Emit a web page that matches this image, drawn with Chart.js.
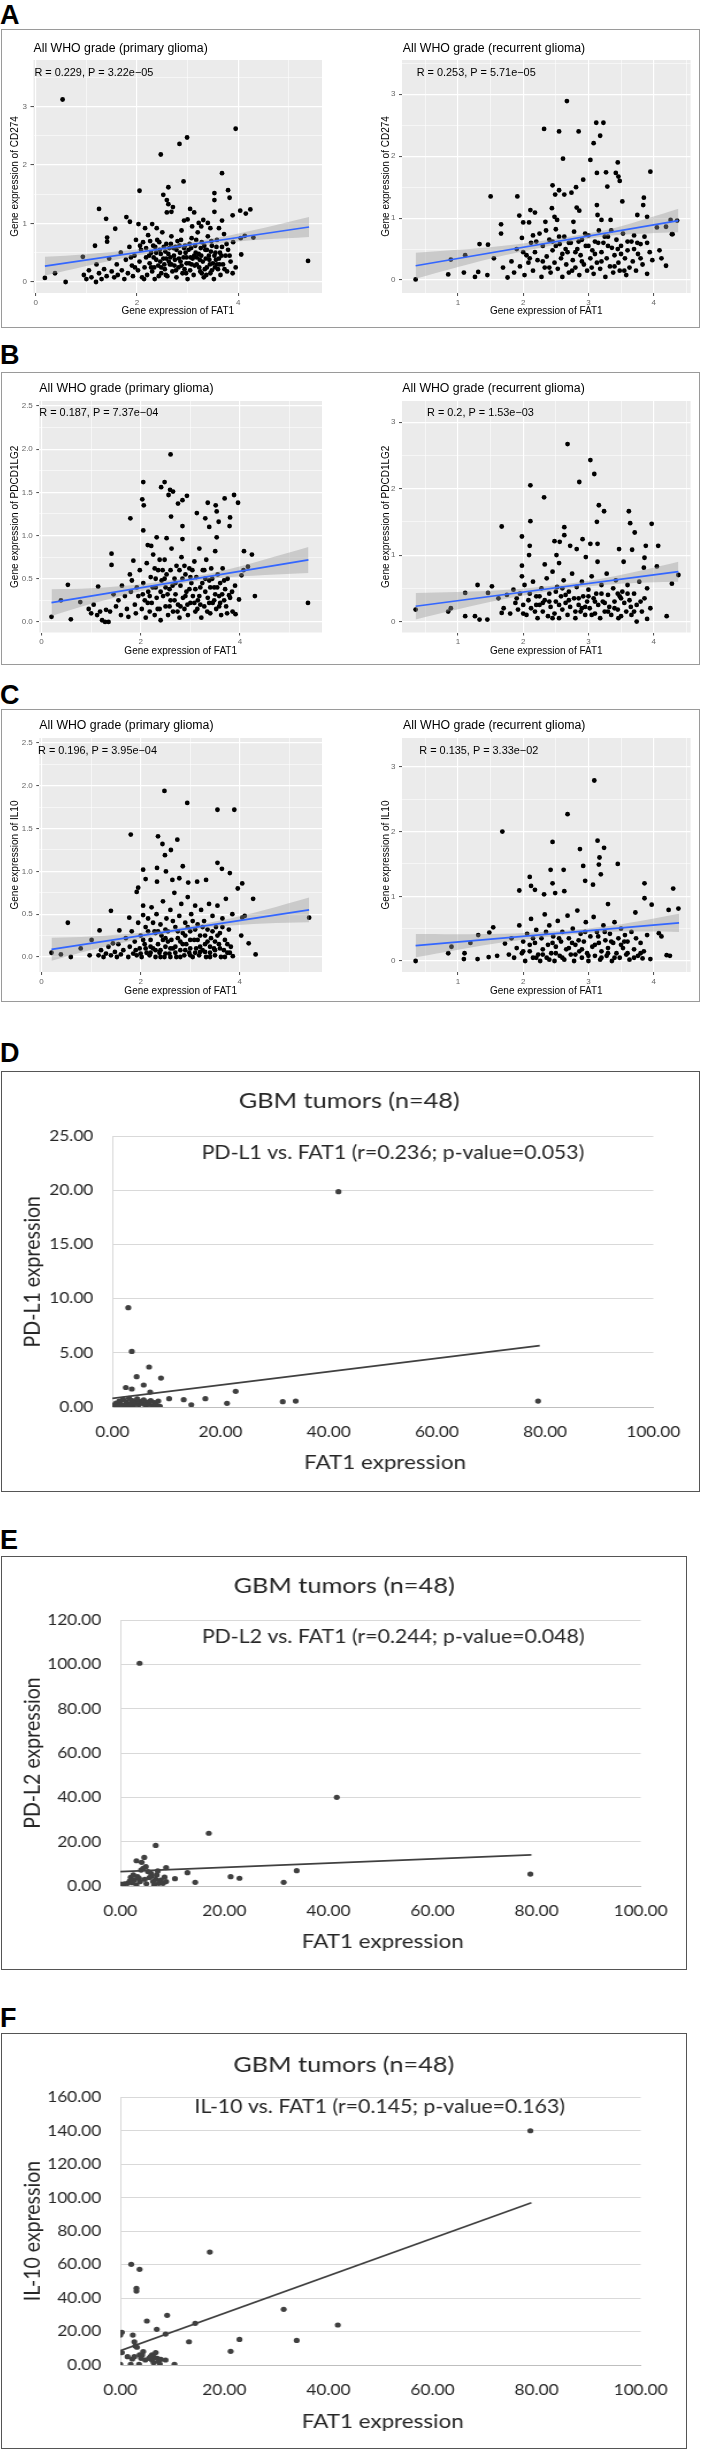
<!DOCTYPE html>
<html><head><meta charset="utf-8">
<script src="https://cdn.jsdelivr.net/npm/chart.js@4.4.1/dist/chart.umd.min.js"></script>
<style>
html,body{margin:0;padding:0;background:#fff;}
#page{position:relative;width:701px;height:2452px;overflow:hidden;background:#fff;}
.frame{position:absolute;box-sizing:border-box;}
.gg{border:1px solid #9a9a9a;}
.xl{border:1.5px solid #555;}
.lab{position:absolute;font-family:'Liberation Sans',Arial,sans-serif;font-weight:bold;font-size:27px;line-height:27px;color:#000;}
.stretch{position:absolute;transform-origin:0 0;}
canvas{position:absolute;}
</style></head><body><div id="page">
<div class="lab" style="left:0;top:2px">A</div>
<div class="lab" style="left:0;top:342px">B</div>
<div class="lab" style="left:0;top:682px">C</div>
<div class="lab" style="left:0;top:1040px">D</div>
<div class="lab" style="left:0;top:1527px">E</div>
<div class="lab" style="left:0;top:2005px">F</div>
<div class="frame gg" style="left:1px;top:29px;width:699px;height:299px"></div>
<div class="frame gg" style="left:1px;top:372px;width:699px;height:293px"></div>
<div class="frame gg" style="left:1px;top:709px;width:699px;height:293px"></div>
<div class="frame xl" style="left:1px;top:1071px;width:699px;height:421px"></div>
<div class="frame xl" style="left:1px;top:1556px;width:686px;height:414px"></div>
<div class="frame xl" style="left:1px;top:2033px;width:686px;height:416px"></div>
</div>
<script>
// ---------------- DATA ----------------
// Panel A : CD274 vs FAT1
const cd274Primary = [
[0.53,3.12],[3.95,2.62],[2.99,2.47],[2.84,2.36],[2.47,2.18],[3.68,1.86],[2.92,1.72],[2.05,1.56],[2.62,1.62],[2.52,1.49],
[3.53,1.52],[3.8,1.57],[3.53,1.40],[3.83,1.44],[2.59,1.40],[2.62,1.33],[2.71,1.28],[2.59,1.19],[2.68,1.20],[1.25,1.25],
[1.39,1.08],[3.05,1.25],[3.13,1.19],[3.53,1.20],[4.04,1.22],[4.15,1.17],[4.24,1.24],[3.89,1.14],[3.68,1.05],[1.79,1.11],
[1.86,1.03],[1.57,0.91],[1.41,0.76],[2.03,0.99],[2.30,0.99],[2.93,1.05],[3.0,1.07],[3.22,1.01],[3.31,1.06],[3.40,1.01],
[3.09,0.95],[3.27,0.95],[3.45,0.92],[3.62,0.92],[2.16,0.92],[2.39,0.92],
[0.18,0.07],[0.38,0.15],[0.59,0.0],[0.93,0.43],[1.17,0.62],[1.41,0.69],[1.19,0.0],[5.38,0.36],[3.89,0.15],[4.06,0.47],
[4.05,0.75],[4.3,0.76],[4.13,0.79],
[0.95,0.12],[1.0,0.05],[1.05,0.2],[1.1,0.08],[1.2,0.3],[1.25,0.15],[1.3,0.05],[1.35,0.22],[1.4,0.1],[1.45,0.4],[1.5,0.18],
[1.55,0.08],[1.6,0.3],[1.62,0.12],[1.68,0.5],[1.7,0.2],[1.75,0.05],[1.78,0.38],[1.82,0.15],[1.85,0.6],[1.9,0.28],[1.92,0.1],[1.95,0.45],[1.98,0.72],
[2.02,0.2],[2.05,0.35],[2.08,0.55],[2.1,0.08],[2.12,0.68],[2.15,0.25],[2.18,0.42],[2.2,0.12],[2.22,0.8],[2.25,0.32],[2.28,0.5],[2.3,0.18],[2.32,0.62],[2.35,0.05],[2.38,0.38],[2.4,0.72],[2.42,0.28],[2.45,0.55],[2.48,0.15],[2.5,0.85],
[2.52,0.4],[2.55,0.22],[2.58,0.65],[2.6,0.1],[2.62,0.48],[2.65,0.3],[2.68,0.78],[2.7,0.18],[2.72,0.58],[2.75,0.38],[2.78,0.08],[2.8,0.7],[2.82,0.25],[2.85,0.5],[2.88,0.88],[2.9,0.15],[2.92,0.42],[2.95,0.62],[2.98,0.32],[3.0,0.05],
[3.02,0.55],[3.05,0.2],[3.08,0.75],[3.1,0.4],[3.12,0.12],[3.15,0.62],[3.18,0.3],[3.2,0.85],[3.22,0.48],[3.25,0.18],[3.28,0.68],[3.3,0.35],[3.32,0.08],[3.35,0.55],[3.38,0.25],[3.4,0.78],[3.42,0.45],[3.45,0.15],[3.48,0.62],[3.5,0.32],
[3.52,0.05],[3.55,0.5],[3.58,0.72],[3.6,0.22],[3.62,0.4],[3.65,0.12],[3.68,0.6],[3.7,0.3],[3.72,0.82],[3.75,0.45],[3.78,0.18],[3.8,0.55],[3.85,0.35],[3.9,0.68],[3.95,0.25],
[2.24,0.45],[2.36,0.6],[2.46,0.35],[2.56,0.52],[2.66,0.42],[2.76,0.6],[2.86,0.35],[2.96,0.5],[3.06,0.42],[3.16,0.5],[3.26,0.58],[3.36,0.4],[3.46,0.52],[3.56,0.38],
[2.34,0.25],[2.54,0.3],[2.74,0.28],[2.94,0.22],[3.14,0.28],[3.34,0.22],[3.54,0.25],[2.44,0.68],[2.64,0.58],[2.84,0.62],[3.04,0.65],[3.24,0.38],[3.44,0.3],[3.64,0.5],
[1.88,0.42],[1.96,0.25],[2.06,0.62],[2.14,0.05],[2.26,0.7],[2.33,0.42],[2.43,0.1],[2.47,0.48],[2.53,0.6],[2.57,0.12],
[2.63,0.35],[2.67,0.65],[2.73,0.45],[2.77,0.2],[2.83,0.4],[2.87,0.72],[2.93,0.58],[2.97,0.15],[3.03,0.32],[3.07,0.58],
[3.13,0.45],[3.17,0.72],[3.23,0.25],[3.27,0.45],[3.33,0.62],[3.37,0.12],[3.43,0.38],[3.47,0.7],[3.53,0.45],[3.57,0.6],
[3.63,0.3],[3.67,0.45],[3.73,0.22],[3.77,0.65],[3.83,0.45],[2.18,0.58],[2.28,0.25],[2.38,0.5],[2.48,0.25],[2.58,0.4],
[2.68,0.3],[2.78,0.55],[2.88,0.28],[2.98,0.42],[3.08,0.3],[3.18,0.42],[3.28,0.15],[3.38,0.55],[3.48,0.2],[3.58,0.3]
];
const cd274PrimaryReg = [[0.18,0.27],[5.4,0.94]];
const cd274PrimaryBandX  = [0.18,1.0,2.0,2.8,3.6,4.5,5.4];
const cd274PrimaryBandLo = [0.11,0.275,0.454,0.566,0.659,0.725,0.77];
const cd274PrimaryBandHi = [0.43,0.475,0.554,0.646,0.759,0.925,1.11];

const cd274Recurrent = [
[2.67,2.89],[3.12,2.54],[3.23,2.54],[2.32,2.44],[2.55,2.40],[2.85,2.40],[3.18,2.33],[3.08,2.21],[2.61,1.96],[3.03,1.94],
[3.45,1.90],[3.13,1.73],[3.27,1.74],[3.42,1.73],[3.95,1.75],[3.46,1.67],[3.48,1.60],[2.92,1.62],[2.45,1.53],[3.29,1.51],
[2.81,1.50],[2.55,1.45],[2.49,1.38],[2.63,1.38],[2.74,1.41],[1.50,1.35],[1.91,1.35],[3.85,1.33],[3.52,1.27],[3.13,1.21],
[2.82,1.17],[2.86,1.12],[3.84,1.21],[1.94,1.04],[2.11,1.13],[2.18,1.09],[2.44,1.16],[2.48,1.02],[3.14,1.05],[3.75,1.05],
[3.90,1.02],[1.66,0.90],[2.0,0.93],[2.09,0.93],[2.34,0.94],[2.52,0.97],[2.77,0.94],[3.2,0.97],[3.34,0.97],[4.26,0.97],
[4.36,0.96],[4.05,0.85],[4.19,0.86],[4.28,0.74],
[0.35,0.01],[0.85,0.09],[0.89,0.33],[1.11,0.40],[1.09,0.12],[1.26,0.05],[1.33,0.58],[1.31,0.13],[1.45,0.08],[1.46,0.57],
[1.66,0.75],[1.55,0.35],[1.76,0.04],[1.69,0.20],[4.09,0.48],[4.12,0.35],[4.19,0.23],[4.29,0.74],
[1.82,0.3],[1.86,0.12],[1.9,0.5],[1.95,0.22],[1.98,0.68],[2.02,0.08],[2.05,0.4],[2.08,0.28],[2.12,0.6],[2.15,0.15],
[2.18,0.45],[2.22,0.32],[2.25,0.75],[2.28,0.05],[2.3,0.55],[2.33,0.2],[2.36,0.38],[2.4,0.65],[2.42,0.12],[2.45,0.48],
[2.48,0.28],[2.5,0.82],[2.53,0.18],[2.56,0.58],[2.58,0.35],[2.6,0.05],[2.63,0.7],[2.66,0.25],[2.68,0.45],[2.7,0.12],
[2.73,0.6],[2.76,0.32],[2.78,0.78],[2.8,0.2],[2.83,0.5],[2.86,0.08],[2.88,0.4],[2.9,0.65],[2.93,0.25],[2.96,0.55],
[2.98,0.15],[3.0,0.72],[3.03,0.35],[3.06,0.48],[3.08,0.1],[3.1,0.62],[3.13,0.28],[3.16,0.8],[3.18,0.18],[3.2,0.45],
[3.23,0.6],[3.26,0.05],[3.28,0.35],[3.3,0.7],[3.33,0.22],[3.36,0.52],[3.38,0.12],[3.4,0.4],[3.43,0.65],[3.46,0.28],
[3.48,0.15],[3.5,0.55],[3.53,0.75],[3.56,0.35],[3.58,0.08],[3.6,0.48],[3.63,0.2],[3.66,0.62],[3.68,0.3],[3.7,0.72],
[3.73,0.15],[3.76,0.42],[3.8,0.58],[3.83,0.25],[3.86,0.7],[3.9,0.1],[3.94,0.45],[3.98,0.32],
[2.0,0.45],[2.1,0.35],[2.2,0.62],[2.3,0.3],[2.4,0.2],[2.5,0.55],[2.6,0.42],[2.7,0.6],[2.8,0.45],[2.9,0.3],
[3.0,0.55],[3.1,0.42],[3.2,0.3],[3.3,0.55],[3.4,0.22],[3.5,0.42],[3.6,0.62],[3.7,0.5],[3.8,0.35],[3.9,0.6],
[2.15,0.72],[2.35,0.8],[2.55,0.7],[2.75,0.15],[2.95,0.75],[3.15,0.6],[3.35,0.8],[3.55,0.15],[3.75,0.6],[2.45,0.62],
[2.65,0.5],[2.85,0.62],[3.05,0.2],[3.25,0.7],[3.45,0.5]
];
const cd274RecurrentReg = [[0.35,0.23],[4.38,0.96]];
const cd274RecurrentBandX  = [0.35,1.0,1.7,2.4,2.9,3.4,3.9,4.38];
const cd274RecurrentBandLo = [0.02,0.208,0.394,0.551,0.647,0.722,0.753,0.77];
const cd274RecurrentBandHi = [0.44,0.488,0.554,0.651,0.737,0.842,0.993,1.15];

// Panel B : PDCD1LG2 vs FAT1
const pdcd1lg2Primary = [
[2.6,1.94],[2.05,1.62],[2.48,1.62],[2.41,1.56],[2.59,1.53],[2.65,1.51],[2.56,1.47],[2.93,1.46],[2.84,1.41],[2.75,1.37],
[2.03,1.42],[2.06,1.35],[3.88,1.47],[3.96,1.38],[3.35,1.38],[3.69,1.43],[3.51,1.35],[3.53,1.28],[3.13,1.26],[3.3,1.20],
[3.8,1.21],[1.79,1.20],[2.61,1.22],[3.57,1.16],[2.84,1.11],[3.38,1.10],[3.79,1.11],[2.05,1.06],[2.32,0.98],[2.52,0.97],
[2.84,0.96],[3.53,0.98],[2.14,0.89],[2.21,0.88],[4.08,0.82],[4.24,0.78],[4.3,0.30],[1.41,0.79],[1.41,0.66],[1.85,0.71],
[1.78,0.55],[5.37,0.22],[0.2,0.06],[0.39,0.25],[0.53,0.43],[0.59,0.03],[0.78,0.23],[1.14,0.41],[3.91,0.09],[3.98,0.26],
[4.03,0.54],[4.07,0.60],[4.16,0.64],[3.78,0.31],
[0.95,0.15],[1.0,0.1],[1.05,0.2],[1.12,0.08],[1.18,0.12],[1.22,0.02],[1.28,0.0],[1.3,0.14],[1.35,0.0],[1.38,0.12],
[1.45,0.32],[1.5,0.18],[1.55,0.25],[1.6,0.08],[1.62,0.42],[1.68,0.3],[1.72,0.15],[1.75,0.06],[1.8,0.35],[1.82,0.48],
[1.88,0.2],[1.9,0.1],[1.95,0.3],[1.98,0.6],
[2.02,0.15],[2.05,0.45],[2.08,0.25],[2.1,0.05],[2.12,0.68],[2.15,0.35],[2.18,0.12],[2.2,0.52],[2.22,0.22],[2.25,0.78],
[2.28,0.08],[2.3,0.4],[2.32,0.28],[2.35,0.6],[2.38,0.15],[2.4,0.02],[2.42,0.48],[2.45,0.3],[2.48,0.72],[2.5,0.18],
[2.52,0.55],[2.55,0.08],[2.58,0.38],[2.6,0.25],[2.62,0.85],[2.65,0.12],[2.68,0.5],[2.7,0.32],[2.72,0.65],[2.75,0.2],
[2.78,0.05],[2.8,0.42],[2.82,0.75],[2.85,0.28],[2.88,0.15],[2.9,0.55],[2.92,0.35],[2.95,0.08],[2.98,0.62],[3.0,0.22],
[3.02,0.45],[3.05,0.3],[3.08,0.7],[3.1,0.12],[3.12,0.52],[3.15,0.25],[3.18,0.85],[3.2,0.4],[3.22,0.05],[3.25,0.6],
[3.28,0.18],[3.3,0.35],[3.32,0.72],[3.35,0.28],[3.38,0.48],[3.4,0.1],[3.42,0.62],[3.45,0.22],[3.48,0.4],[3.5,0.82],
[3.52,0.15],[3.55,0.55],[3.58,0.3],[3.6,0.45],[3.62,0.08],[3.65,0.62],[3.68,0.25],[3.7,0.38],[3.72,0.18],[3.75,0.5],
[3.8,0.28],[3.85,0.12],[3.9,0.42],
[2.3,0.5],[2.5,0.4],[2.7,0.45],[2.9,0.3],[3.1,0.38],[3.3,0.5],[3.5,0.32],[2.4,0.35],[2.6,0.6],[2.8,0.18],[3.0,0.52],[3.2,0.2],[3.4,0.4],[3.6,0.22],
[1.92,0.4],[2.04,0.32],[2.14,0.22],[2.24,0.4],[2.34,0.15],[2.44,0.6],[2.54,0.32],[2.64,0.42],[2.74,0.12],[2.84,0.5],
[2.94,0.2],[3.04,0.6],[3.14,0.15],[3.24,0.45],[3.34,0.12],[3.44,0.5],[3.54,0.4],[3.64,0.32],[3.74,0.1],[3.84,0.35],
[2.28,0.62],[2.48,0.5],[2.68,0.25],[2.88,0.65],[3.08,0.22],[3.28,0.6],[3.48,0.25],[3.68,0.48],[2.18,0.3],[2.38,0.72],
[2.58,0.18],[2.78,0.6],[2.98,0.38],[3.18,0.3],[3.38,0.22],[3.58,0.18]
];
const pdcd1lg2PrimaryReg = [[0.2,0.224],[5.38,0.718]];
const pdcd1lg2PrimaryBandX  = [0.2,1.0,2.0,2.8,3.6,4.5,5.38];
const pdcd1lg2PrimaryBandLo = [0.069,0.21,0.356,0.442,0.508,0.544,0.568];
const pdcd1lg2PrimaryBandHi = [0.379,0.39,0.436,0.502,0.588,0.724,0.868];

const pdcd1lg2Recurrent = [
[2.68,2.67],[3.03,2.43],[3.09,2.22],[2.86,2.10],[2.11,2.05],[2.32,1.87],[3.16,1.75],[3.24,1.66],[3.62,1.66],[3.13,1.50],
[3.64,1.48],[3.97,1.47],[2.11,1.51],[1.67,1.43],[2.63,1.42],[3.71,1.34],[2.63,1.30],[1.98,1.28],[2.91,1.24],[2.1,1.14],
[2.48,1.21],[2.56,1.20],[2.72,1.14],[3.03,1.17],[3.14,1.17],[3.88,1.14],[4.07,1.14],[2.82,1.09],[3.47,1.09],[3.67,1.08],
[2.09,1.0],[2.51,1.0],[2.96,0.97],[3.14,0.90],[3.54,0.90],[3.86,0.96],[1.98,0.84],[2.33,0.86],[2.55,0.88],[4.05,0.83],
[3.85,0.81],[1.98,0.68],[4.38,0.70],[4.28,0.57],[4.2,0.08],[0.35,0.18],[0.85,0.15],[0.89,0.20],[1.11,0.43],[1.3,0.55],
[1.11,0.08],[1.26,0.08],[1.33,0.03],[1.52,0.53],[1.46,0.43],[1.45,0.03],[1.67,0.13],[3.46,0.05],[3.74,0.0],[3.9,0.04],
[1.62,0.35],[1.7,0.2],[1.75,0.4],[1.8,0.12],[1.85,0.48],[1.88,0.28],[1.92,0.18],[1.95,0.42],[2.0,0.25],[2.02,0.55],
[2.05,0.1],[2.08,0.32],[2.12,0.2],[2.15,0.6],[2.18,0.15],[2.2,0.38],[2.22,0.05],[2.25,0.25],[2.28,0.5],[2.3,0.15],
[2.33,0.32],[2.36,0.65],[2.38,0.08],[2.4,0.42],[2.42,0.22],[2.45,0.75],[2.48,0.12],[2.5,0.3],[2.52,0.52],[2.55,0.05],
[2.58,0.38],[2.6,0.18],[2.62,0.62],[2.65,0.28],[2.68,0.1],[2.7,0.45],[2.72,0.22],[2.75,0.72],[2.78,0.35],[2.8,0.05],
[2.82,0.52],[2.85,0.25],[2.88,0.15],[2.9,0.6],[2.92,0.38],[2.95,0.1],[2.98,0.3],[3.0,0.48],[3.02,0.2],[3.05,0.68],
[3.08,0.35],[3.1,0.12],[3.12,0.42],[3.15,0.25],[3.18,0.05],[3.2,0.55],[3.22,0.3],[3.25,0.15],[3.28,0.72],[3.3,0.4],
[3.32,0.22],[3.35,0.1],[3.38,0.5],[3.4,0.3],[3.42,0.62],[3.45,0.18],[3.48,0.38],[3.5,0.08],[3.52,0.45],[3.55,0.28],
[3.58,0.15],[3.6,0.55],[3.63,0.32],[3.66,0.1],[3.7,0.42],[3.74,0.25],[3.78,0.6],[3.82,0.15],[3.86,0.35],[3.9,0.5],[3.95,0.2],
[1.9,0.35],[2.1,0.42],[2.3,0.28],[2.5,0.45],[2.7,0.32],[2.9,0.2],[3.1,0.3],[3.3,0.15],[3.5,0.35],[3.7,0.15],
[2.0,0.12],[2.2,0.25],[2.4,0.3],[2.6,0.5],[2.8,0.15],[3.0,0.38],[3.2,0.42],[3.4,0.2],[3.6,0.42],[3.8,0.3],
[2.25,0.38],[2.45,0.05],[2.65,0.4],[2.85,0.35],[3.05,0.1],[3.25,0.28],[3.45,0.42],[3.65,0.22],[2.55,0.25],[2.95,0.22]
];
const pdcd1lg2RecurrentReg = [[0.35,0.23],[4.38,0.75]];
const pdcd1lg2RecurrentBandX  = [0.35,1.0,1.7,2.4,2.9,3.4,3.9,4.38];
const pdcd1lg2RecurrentBandLo = [0.03,0.184,0.334,0.454,0.519,0.563,0.588,0.6];
const pdcd1lg2RecurrentBandHi = [0.43,0.444,0.474,0.534,0.599,0.683,0.788,0.9];

// Panel C : IL10 vs FAT1
const il10Primary = [
[2.48,1.94],[2.94,1.80],[3.55,1.72],[3.89,1.72],[1.8,1.43],[2.35,1.41],[2.44,1.32],[2.74,1.37],[2.61,1.25],[2.49,1.19],
[3.55,1.10],[2.85,1.06],[2.05,1.02],[2.33,1.04],[2.51,1.0],[3.64,1.03],[3.8,0.98],[2.1,0.91],[2.33,0.88],[2.64,0.90],
[2.78,0.92],[2.96,0.87],[3.14,0.88],[3.32,0.90],[4.05,0.86],[3.96,0.80],[1.95,0.81],[1.92,0.76],[4.27,0.68],[1.4,0.54],
[0.53,0.40],[1.77,0.46],[2.05,0.49],[5.4,0.46],[4.05,0.46],[4.1,0.48],[4.03,0.25],[4.18,0.16],[4.32,0.03],[3.86,0.01],
[0.2,0.05],[0.39,0.03],[0.59,0.0],[0.79,0.10],[1.01,0.20],[0.97,0.02],[1.17,0.31],[1.57,0.31],[1.44,0.16],
[1.15,0.02],[1.2,0.08],[1.25,0.0],[1.3,0.04],[1.35,0.12],[1.4,0.02],[1.48,0.06],[1.52,0.0],[1.55,0.15],[1.6,0.03],
[1.65,0.08],[1.7,0.22],[1.75,0.0],[1.78,0.12],[1.82,0.3],[1.85,0.04],[1.88,0.18],[1.92,0.02],[1.95,0.4],[1.98,0.1],
[2.0,0.25],[2.02,0.0],[2.05,0.6],[2.08,0.15],[2.1,0.35],[2.12,0.05],[2.15,0.45],[2.18,0.02],[2.2,0.2],[2.22,0.58],
[2.25,0.1],[2.28,0.3],[2.3,0.0],[2.32,0.5],[2.35,0.15],[2.38,0.05],[2.4,0.38],[2.42,0.25],[2.45,0.65],[2.48,0.0],
[2.5,0.12],[2.52,0.45],[2.55,0.3],[2.58,0.04],[2.6,0.55],[2.62,0.2],[2.65,0.1],[2.68,0.75],[2.7,0.35],[2.72,0.0],
[2.75,0.22],[2.78,0.48],[2.8,0.08],[2.82,0.62],[2.85,0.28],[2.88,0.02],[2.9,0.4],[2.92,0.15],[2.95,0.7],[2.98,0.05],
[3.0,0.3],[3.02,0.5],[3.05,0.0],[3.08,0.2],[3.1,0.6],[3.12,0.1],[3.15,0.38],[3.18,0.02],[3.2,0.25],[3.22,0.55],
[3.25,0.08],[3.28,0.42],[3.3,0.15],[3.32,0.0],[3.35,0.32],[3.38,0.62],[3.4,0.05],[3.42,0.22],[3.45,0.48],[3.48,0.1],
[3.5,0.02],[3.52,0.35],[3.55,0.6],[3.58,0.15],[3.6,0.28],[3.62,0.0],[3.65,0.45],[3.68,0.08],[3.7,0.2],[3.72,0.68],
[3.75,0.05],[3.78,0.32],[3.82,0.12],[3.85,0.5],
[2.2,0.05],[2.4,0.08],[2.6,0.0],[2.8,0.18],[3.0,0.1],[3.2,0.06],[3.4,0.12],[2.3,0.28],[2.5,0.22],[2.7,0.12],[2.9,0.25],[3.1,0.32],[3.3,0.25],[3.5,0.18],
[1.9,0.08],[2.0,0.04],[2.1,0.1],[2.2,0.12],[2.3,0.08],[2.4,0.0],[2.5,0.04],[2.6,0.1],[2.7,0.05],[2.8,0.0],
[2.9,0.08],[3.0,0.02],[3.1,0.05],[3.2,0.12],[3.3,0.06],[3.4,0.0],[3.5,0.08],[3.6,0.1],[3.7,0.0],[3.8,0.05],
[2.15,0.3],[2.35,0.3],[2.55,0.18],[2.75,0.3],[2.95,0.35],[3.15,0.2],[3.35,0.18],[3.55,0.25],[3.75,0.15],[2.25,0.4],
[2.45,0.2],[2.65,0.42],[2.85,0.15],[3.05,0.42],[3.25,0.35],[3.45,0.3],[3.65,0.35],[2.05,0.2],[2.5,0.32],[3.0,0.2]
];
const il10PrimaryReg = [[0.2,0.09],[5.4,0.55]];
const il10PrimaryBandX  = [0.2,1.0,2.0,2.8,3.6,4.5,5.4];
const il10PrimaryBandLo = [-0.045,0.081,0.214,0.295,0.356,0.39,0.405];
const il10PrimaryBandHi = [0.225,0.241,0.284,0.345,0.426,0.55,0.695];

const il10Recurrent = [
[3.09,2.79],[2.68,2.27],[1.68,2.0],[2.45,1.84],[3.14,1.86],[3.24,1.75],[2.87,1.73],[3.17,1.60],[3.16,1.49],[3.45,1.50],
[2.92,1.47],[2.42,1.41],[2.62,1.41],[3.19,1.34],[2.1,1.30],[2.95,1.24],[3.07,1.18],[2.45,1.20],[2.12,1.16],[2.18,1.10],
[1.94,1.09],[2.32,1.03],[2.49,1.05],[2.63,1.08],[3.86,1.20],[4.3,1.12],[3.86,0.97],[3.97,0.87],[3.3,0.88],[3.72,0.75],
[4.23,0.79],[4.38,0.81],[0.35,0.0],[0.85,0.12],[0.9,0.22],[1.1,0.12],[1.19,0.28],[1.31,0.40],[1.09,0.03],[1.3,0.03],
[1.47,0.06],[1.54,0.52],[1.48,0.44],[1.6,0.08],[1.72,0.27],[4.2,0.09],[4.25,0.08],[4.08,0.43],[4.12,0.38],[3.95,0.03],[3.83,0.04],
[1.78,0.1],[1.82,0.35],[1.86,0.05],[1.9,0.2],[1.94,0.55],[1.98,0.12],[2.0,0.3],[2.03,0.0],[2.06,0.42],[2.1,0.15],
[2.12,0.65],[2.15,0.05],[2.18,0.28],[2.2,0.48],[2.23,0.1],[2.26,0.0],[2.28,0.35],[2.3,0.18],[2.33,0.72],[2.36,0.05],
[2.38,0.25],[2.4,0.55],[2.43,0.12],[2.46,0.38],[2.48,0.0],[2.5,0.22],[2.53,0.62],[2.56,0.08],[2.58,0.3],[2.6,0.45],
[2.63,0.02],[2.66,0.18],[2.68,0.7],[2.7,0.35],[2.73,0.1],[2.76,0.5],[2.78,0.0],[2.8,0.25],[2.83,0.78],[2.86,0.15],
[2.88,0.42],[2.9,0.05],[2.93,0.3],[2.96,0.6],[2.98,0.12],[3.0,0.0],[3.03,0.38],[3.06,0.22],[3.08,0.68],[3.1,0.08],
[3.13,0.45],[3.16,0.28],[3.18,0.02],[3.2,0.15],[3.23,0.55],[3.26,0.32],[3.28,0.08],[3.3,0.2],[3.33,0.42],[3.36,0.0],
[3.38,0.28],[3.4,0.6],[3.43,0.12],[3.46,0.35],[3.48,0.05],[3.5,0.5],[3.53,0.2],[3.56,0.4],[3.58,0.1],[3.6,0.3],
[3.63,0.02],[3.66,0.45],[3.7,0.18],[3.73,0.35],[3.76,0.08],[3.8,0.28],[3.85,0.15],[3.9,0.4],
[2.0,0.15],[2.1,0.25],[2.2,0.05],[2.3,0.1],[2.4,0.02],[2.5,0.12],[2.6,0.05],[2.7,0.2],[2.8,0.1],[2.9,0.18],
[3.0,0.08],[3.1,0.25],[3.2,0.05],[3.3,0.12],[3.4,0.05],[3.5,0.25],[3.6,0.12],[3.7,0.05],[3.8,0.12],[2.15,0.35],
[2.35,0.45],[2.55,0.35],[2.75,0.28],[2.95,0.45],[3.15,0.38],[3.35,0.3],[3.55,0.3],[2.45,0.28],[2.85,0.32],[3.25,0.45]
];
const il10RecurrentReg = [[0.35,0.237],[4.39,0.59]];
const il10RecurrentBandX  = [0.35,1.0,1.7,2.4,2.9,3.4,3.9,4.39];
const il10RecurrentBandLo = [0.057,0.174,0.29,0.376,0.425,0.454,0.457,0.45];
const il10RecurrentBandHi = [0.417,0.414,0.42,0.456,0.495,0.554,0.637,0.73];

// ggplot tick values
const primaryXMajor = [0,2,4];
const primaryXMinor = [1,3,5];
const recurrentXMajor = [1,2,3,4];
const recurrentXMinor = [0.5,1.5,2.5,3.5,4.5];
const yIntMajor = [0,1,2,3];
const yIntMinor = [0.5,1.5,2.5,3.5];
const yHalfMajor = [0,0.5,1,1.5,2,2.5];
const yHalfMinor = [0.25,0.75,1.25,1.75,2.25];

// Panels D-F : GBM tumors (n=48)
const pdl1GBM = [
[41.8,19.86],[2.95,9.16],[3.6,5.13],[6.8,3.69],[4.5,2.8],[9.0,2.67],[5.8,2.03],[2.5,1.8],[3.6,1.66],[22.8,1.45],
[7.0,1.38],[10.5,0.77],[13.2,0.68],[17.2,0.77],[14.6,0.2],[21.2,0.34],[31.5,0.49],[33.9,0.55],[78.7,0.55],
[0.1,0.05],[0.4,0.2],[0.7,0.35],[1.0,0.1],[1.3,0.55],[1.6,0.25],[2.0,0.7],[2.2,0.15],[2.6,0.45],[2.9,0.05],
[3.1,0.8],[3.3,0.3],[3.7,0.6],[3.9,0.1],[4.2,0.4],[4.6,0.75],[4.9,0.2],[5.2,0.5],[5.5,0.35],[5.8,0.65],
[6.1,0.15],[6.4,0.45],[6.7,0.25],[7.1,0.6],[7.4,0.1],[7.8,0.4],[8.1,0.2],[8.5,0.55],[8.8,0.05]
];
const pdl1Trend = [[0,0.8],[79,5.66]];
const pdl2GBM = [
[3.7,100.5],[41.6,40],[17,23.8],[6.8,18.3],[4.6,12.9],[3.1,11.4],[4.1,10.7],[4.9,8.7],[8.8,8.3],[33.9,6.9],
[12.9,6.0],[78.8,5.4],[21.2,4.2],[22.9,3.5],[10.5,3.3],[14.4,1.65],[31.4,1.65],
[0,0.8],[0.3,0.8],[1.4,1.2],[2.0,3.9],[2.5,5.0],[2.7,2.7],[3.1,0.5],[3.6,3.5],[4.0,7.2],[4.4,8.0],
[5.3,6.5],[5.9,5.7],[6.3,2.0],[6.5,0.5],[7.0,5.0],[7.4,1.2],[7.8,2.7],[8.2,1.2],[8.8,2.0],
[0.8,1.0],[1.8,2.2],[2.3,1.5],[3.3,4.2],[3.8,2.0],[4.7,3.0],[5.0,1.0],[5.6,3.8],[6.0,4.5],[6.8,3.0],[7.2,6.8],[8.5,4.0]
];
const pdl2Trend = [[0,6.5],[79,14.0]];
const il10GBM = [
[78.8,140],[17.2,67.5],[2.1,60.2],[3.7,57.2],[3.1,45.8],[3.1,44.2],[31.4,33.3],[9.0,29.7],[5.1,26.3],[14.4,24.9],
[41.8,23.9],[7.0,21.3],[0.3,19.5],[0,17.9],[8.7,18.5],[2.4,17.9],[22.9,15.3],[33.9,14.7],[13.2,13.9],[2.7,13.9],
[2.9,11.4],[3.2,10.6],[21.2,8.2],[0.3,7.4],[4.4,8],[3.7,6],[4.2,6],[1.4,5],[2.3,3.6],[6.1,6],
[6.8,7.4],[6.5,4.6],[7.1,4],[6.1,3],[7.4,2],[7.8,3.4],[8.7,3],[0,0.4],[2.0,0.4],[3.6,0.4],
[10.4,0.4],[4.8,3],[5.5,4],[6.4,1.4],[7.6,0.6],[5.8,5],[2.7,5],[4,4]
];
const il10Trend = [[0,8.5],[79,97]];
const gbmXTicks = [0,20,40,60,80,100];
const pdl1YTicks = [0,5,10,15,20,25];
const pdl2YTicks = [0,20,40,60,80,100,120];
const il10YTicks = [0,20,40,60,80,100,120,140,160];

// ---------------- RENDERING ----------------
const GG_FONT = "'Liberation Sans', Arial, Helvetica, sans-serif";
const XL_FONT = "Lato, 'Open Sans', sans-serif";
const XL_STRETCH = 1.15;
const page = document.getElementById('page');

function makeCanvas(parent, left, top, w, h) {
  const c = document.createElement('canvas');
  c.width = Math.round(w); c.height = Math.round(h);
  c.style.left = left + 'px'; c.style.top = top + 'px';
  c.style.width = Math.round(w) + 'px'; c.style.height = Math.round(h) + 'px';
  parent.appendChild(c);
  return c;
}
function textPlugin(items) {
  return { id: 'txt', afterDraw(chart) {
    const ctx = chart.ctx;
    items.forEach(t => {
      ctx.save();
      ctx.font = t.font; ctx.fillStyle = t.color || '#000';
      ctx.textAlign = t.align || 'left'; ctx.textBaseline = 'alphabetic';
      ctx.translate(t.x, t.y);
      if (t.rot) ctx.rotate(-Math.PI / 2);
      ctx.fillText(t.text, 0, 0);
      ctx.restore();
    });
  }};
}
const ggBg = { id: 'ggbg', beforeDraw(chart) {
  const a = chart.chartArea, ctx = chart.ctx;
  ctx.save(); ctx.fillStyle = '#EBEBEB';
  ctx.fillRect(a.left, a.top, a.right - a.left, a.bottom - a.top); ctx.restore();
}};
const toXY = arr => arr.map(p => ({ x: p[0], y: p[1] }));

function ggScale(axis, min, max, major, minor, fmt, fit) {
  const isMajor = v => major.indexOf(v) >= 0;
  return {
    type: 'linear', min: min, max: max,
    afterBuildTicks(s) {
      s.ticks = major.concat(minor).filter(v => v >= min && v <= max)
        .sort((a, b) => a - b).map(v => ({ value: v }));
    },
    afterFit: fit,
    border: { display: false },
    grid: {
      color: '#FFFFFF',
      lineWidth: c => (c.tick && isMajor(c.tick.value)) ? 1.15 : 0.55,
      drawTicks: true, tickLength: 3, tickWidth: 0.9,
      tickColor: c => (c.tick && isMajor(c.tick.value)) ? '#333333' : 'rgba(0,0,0,0)'
    },
    ticks: {
      autoSkip: false, maxRotation: 0, minRotation: 0,
      padding: axis === 'x' ? 1.5 : 3.5,
      color: '#666666', font: { family: GG_FONT, size: 8 },
      callback: v => isMajor(v) ? fmt(v) : ''
    }
  };
}

function ggChart(o) {
  const [bl, bt, bw, bh] = o.box;
  const [pl, pt, pr, pb] = o.plot;
  const c = makeCanvas(page, bl, bt, bw, bh);
  const yW = pl - bl, xH = bt + bh - pb;
  const items = [
    { text: o.title, x: o.titlePos[0] - bl, y: o.titlePos[1] - bt, font: '12.3px ' + GG_FONT },
    { text: o.annot, x: o.annotPos[0] - bl, y: o.annotPos[1] - bt, font: '10.9px ' + GG_FONT },
    { text: o.yTitle, x: o.yTitlePos[0] - bl, y: o.yTitlePos[1] - bt, font: '10px ' + GG_FONT, align: 'center', rot: true },
    { text: 'Gene expression of FAT1', x: o.xTitlePos[0] - bl, y: o.xTitlePos[1] - bt, font: '10px ' + GG_FONT, align: 'center' }
  ];
  new Chart(c, {
    type: 'scatter',
    data: { datasets: [
      { type: 'scatter', data: toXY(o.pts), pointRadius: 2.4, pointBackgroundColor: '#000', pointBorderWidth: 0, pointHoverRadius: 2.4, order: 3 },
      { type: 'line', data: o.bandX.map((x, i) => ({ x: x, y: o.bandHi[i] })), borderColor: 'rgba(0,0,0,0)', borderWidth: 0,
        pointRadius: 0, fill: '+1', backgroundColor: 'rgba(153,153,153,0.4)', tension: 0.35, order: 2 },
      { type: 'line', data: o.bandX.map((x, i) => ({ x: x, y: o.bandLo[i] })), borderColor: 'rgba(0,0,0,0)', borderWidth: 0,
        pointRadius: 0, fill: false, tension: 0.35, order: 2 },
      { type: 'line', data: toXY(o.reg), borderColor: '#3366FF', borderWidth: 1.7, pointRadius: 0, fill: false, order: 1 }
    ]},
    options: {
      responsive: false, animation: false, events: [],
      layout: { padding: { left: 0, top: pt - bt, right: bl + bw - pr, bottom: 0 } },
      plugins: { legend: { display: false }, tooltip: { enabled: false } },
      scales: {
        x: ggScale('x', o.xr[0], o.xr[1], o.xMajor, o.xMinor, v => String(v), s => { s.height = xH; }),
        y: ggScale('y', o.yr[0], o.yr[1], o.yMajor, o.yMinor, o.yFmt, s => { s.width = yW; })
      }
    },
    plugins: [ggBg, textPlugin(items)]
  });
}

const intFmt = v => String(v);
const oneFmt = v => v.toFixed(1);

ggChart({ box: [2, 30, 360, 297], plot: [33.5, 60, 322, 293], xr: [-0.045, 5.656], yr: [-0.188, 3.795],
  xMajor: primaryXMajor, xMinor: primaryXMinor, yMajor: yIntMajor, yMinor: yIntMinor, yFmt: intFmt,
  pts: cd274Primary, reg: cd274PrimaryReg, bandX: cd274PrimaryBandX, bandLo: cd274PrimaryBandLo, bandHi: cd274PrimaryBandHi,
  title: 'All WHO grade (primary glioma)', titlePos: [33.5, 51.5], annot: 'R = 0.229, P = 3.22e\u221205', annotPos: [34.4, 75.5],
  yTitle: 'Gene expression of CD274', yTitlePos: [17.5, 176.5], xTitlePos: [177.8, 313.7] });
ggChart({ box: [365, 30, 334, 297], plot: [402, 60, 690.6, 293], xr: [0.141, 4.567], yr: [-0.21, 3.554],
  xMajor: recurrentXMajor, xMinor: recurrentXMinor, yMajor: yIntMajor, yMinor: yIntMinor, yFmt: intFmt,
  pts: cd274Recurrent, reg: cd274RecurrentReg, bandX: cd274RecurrentBandX, bandLo: cd274RecurrentBandLo, bandHi: cd274RecurrentBandHi,
  title: 'All WHO grade (recurrent glioma)', titlePos: [402.7, 51.5], annot: 'R = 0.253, P = 5.71e\u221205', annotPos: [416.7, 75.5],
  yTitle: 'Gene expression of CD274', yTitlePos: [389, 176.5], xTitlePos: [546.3, 313.7] });

ggChart({ box: [2, 373, 360, 291], plot: [39.3, 401, 322, 632.5], xr: [-0.046, 5.653], yr: [-0.122, 2.558],
  xMajor: primaryXMajor, xMinor: primaryXMinor, yMajor: yHalfMajor, yMinor: yHalfMinor, yFmt: oneFmt,
  pts: pdcd1lg2Primary, reg: pdcd1lg2PrimaryReg, bandX: pdcd1lg2PrimaryBandX, bandLo: pdcd1lg2PrimaryBandLo, bandHi: pdcd1lg2PrimaryBandHi,
  title: 'All WHO grade (primary glioma)', titlePos: [39.3, 391.5], annot: 'R = 0.187, P = 7.37e\u221204', annotPos: [39.3, 415.5],
  yTitle: 'Gene expression of PDCD1LG2', yTitlePos: [17.5, 516.8], xTitlePos: [180.7, 654] });
ggChart({ box: [365, 373, 334, 291], plot: [402, 401, 690.6, 632.5], xr: [0.141, 4.567], yr: [-0.165, 3.319],
  xMajor: recurrentXMajor, xMinor: recurrentXMinor, yMajor: yIntMajor, yMinor: yIntMinor, yFmt: intFmt,
  pts: pdcd1lg2Recurrent, reg: pdcd1lg2RecurrentReg, bandX: pdcd1lg2RecurrentBandX, bandLo: pdcd1lg2RecurrentBandLo, bandHi: pdcd1lg2RecurrentBandHi,
  title: 'All WHO grade (recurrent glioma)', titlePos: [402.3, 391.5], annot: 'R = 0.2, P = 1.53e\u221203', annotPos: [427, 415.5],
  yTitle: 'Gene expression of PDCD1LG2', yTitlePos: [389, 516.8], xTitlePos: [546.3, 654] });

ggChart({ box: [2, 710, 360, 291], plot: [39.3, 738, 322, 972], xr: [-0.046, 5.66], yr: [-0.175, 2.558],
  xMajor: primaryXMajor, xMinor: primaryXMinor, yMajor: yHalfMajor, yMinor: yHalfMinor, yFmt: oneFmt,
  pts: il10Primary, reg: il10PrimaryReg, bandX: il10PrimaryBandX, bandLo: il10PrimaryBandLo, bandHi: il10PrimaryBandHi,
  title: 'All WHO grade (primary glioma)', titlePos: [39.3, 729], annot: 'R = 0.196, P = 3.95e\u221204', annotPos: [38, 753.5],
  yTitle: 'Gene expression of IL10', yTitlePos: [17.5, 855], xTitlePos: [180.7, 993.5] });
ggChart({ box: [365, 710, 334, 291], plot: [402, 738, 690.6, 972], xr: [0.141, 4.567], yr: [-0.17, 3.447],
  xMajor: recurrentXMajor, xMinor: recurrentXMinor, yMajor: yIntMajor, yMinor: yIntMinor, yFmt: intFmt,
  pts: il10Recurrent, reg: il10RecurrentReg, bandX: il10RecurrentBandX, bandLo: il10RecurrentBandLo, bandHi: il10RecurrentBandHi,
  title: 'All WHO grade (recurrent glioma)', titlePos: [403, 729], annot: 'R = 0.135, P = 3.33e\u221202', annotPos: [419.3, 753.5],
  yTitle: 'Gene expression of IL10', yTitlePos: [389, 855], xTitlePos: [546.3, 993.5] });

// Excel-style GBM panels (drawn on a canvas stretched horizontally like the source figure)
function xlChart(o) {
  const s = XL_STRETCH;
  const [wl, wt, ww, wh] = o.wrap;
  const lw = ww / s;
  const wrap = document.createElement('div');
  wrap.className = 'stretch';
  wrap.style.left = wl + 'px'; wrap.style.top = wt + 'px';
  wrap.style.width = lw + 'px'; wrap.style.height = wh + 'px';
  wrap.style.transform = 'scaleX(' + s + ')';
  page.appendChild(wrap);
  const c = makeCanvas(wrap, 0, 0, lw, wh);
  const W = Math.round(lw);
  const L = x => (x - wl) / s;
  const pl = L(o.plot[0]), pr = L(o.plot[2]), pt = o.plot[1] - wt, pb = o.plot[3] - wt;
  const yW = pl, xH = wh - pb;
  const col = '#262626';
  const items = [
    { text: 'GBM tumors (n=48)', x: L(o.titlePos[0]), y: o.titlePos[1] - wt, font: '22px ' + XL_FONT, align: 'center', color: col },
    { text: o.annot, x: L(o.annotPos[0]), y: o.annotPos[1] - wt, font: '18.5px ' + XL_FONT, align: 'center', color: col },
    { text: o.yTitle, x: L(o.yTitlePos[0]), y: o.yTitlePos[1] - wt, font: '19.5px ' + XL_FONT, align: 'center', rot: true, color: col },
    { text: 'FAT1 expression', x: L(o.xTitlePos[0]), y: o.xTitlePos[1] - wt, font: '19.5px ' + XL_FONT, align: 'center', color: col }
  ];
  new Chart(c, {
    type: 'scatter',
    data: { datasets: [
      { type: 'scatter', data: toXY(o.pts), pointRadius: 2.6, pointBackgroundColor: '#404040', pointBorderWidth: 0, pointHoverRadius: 2.6, order: 2 },
      { type: 'line', data: toXY(o.trend), borderColor: '#404040', borderWidth: 1.8, pointRadius: 0, fill: false, order: 1 }
    ]},
    options: {
      responsive: false, animation: false, events: [],
      layout: { padding: { left: 0, top: pt, right: W - pr, bottom: 0 } },
      plugins: { legend: { display: false }, tooltip: { enabled: false } },
      scales: {
        x: { type: 'linear', min: 0, max: 100,
          afterBuildTicks(sc) { sc.ticks = gbmXTicks.map(v => ({ value: v })); },
          afterFit(sc) { sc.height = xH; },
          grid: { display: false, drawTicks: false },
          border: { display: true, color: '#bfbfbf', width: 1 },
          ticks: { autoSkip: false, maxRotation: 0, padding: 16, color: col, font: { family: XL_FONT, size: 15 },
            callback: v => v.toFixed(2) } },
        y: { type: 'linear', min: 0, max: o.ymax,
          afterBuildTicks(sc) { sc.ticks = o.yTicks.map(v => ({ value: v })); },
          afterFit(sc) { sc.width = yW; },
          grid: { color: '#d9d9d9', lineWidth: 1, drawTicks: false },
          border: { display: true, color: '#d9d9d9', width: 1 },
          ticks: { autoSkip: false, padding: 16.5, color: col, font: { family: XL_FONT, size: 15 },
            callback: v => v.toFixed(2) } }
      }
    },
    plugins: [textPlugin(items)]
  });
}

xlChart({ wrap: [2.5, 1073, 696, 418], plot: [111.8, 1136, 658, 1407], ymax: 25, yTicks: pdl1YTicks,
  pts: pdl1GBM, trend: pdl1Trend, annot: 'PD-L1 vs. FAT1 (r=0.236; p-value=0.053)',
  titlePos: [348.7, 1108], annotPos: [392.5, 1159], yTitle: 'PD-L1 expression', yTitlePos: [39.3, 1271.7], xTitlePos: [384.5, 1469.3] });
xlChart({ wrap: [2.5, 1558, 683, 411], plot: [119.8, 1620, 646, 1886], ymax: 120, yTicks: pdl2YTicks,
  pts: pdl2GBM, trend: pdl2Trend, annot: 'PD-L2 vs. FAT1 (r=0.244; p-value=0.048)',
  titlePos: [343.6, 1593], annotPos: [392.7, 1643.3], yTitle: 'PD-L2 expression', yTitlePos: [39.5, 1753], xTitlePos: [382.2, 1947.7] });
xlChart({ wrap: [2.5, 2035, 683, 413], plot: [119.8, 2097.3, 646, 2365], ymax: 160, yTicks: il10YTicks,
  pts: il10GBM, trend: il10Trend, annot: 'IL-10 vs. FAT1 (r=0.145; p-value=0.163)',
  titlePos: [343.3, 2071.7], annotPos: [379.3, 2112.7], yTitle: 'IL-10 expression', yTitlePos: [39.5, 2231], xTitlePos: [382.2, 2427.7] });
</script>
</body></html>
